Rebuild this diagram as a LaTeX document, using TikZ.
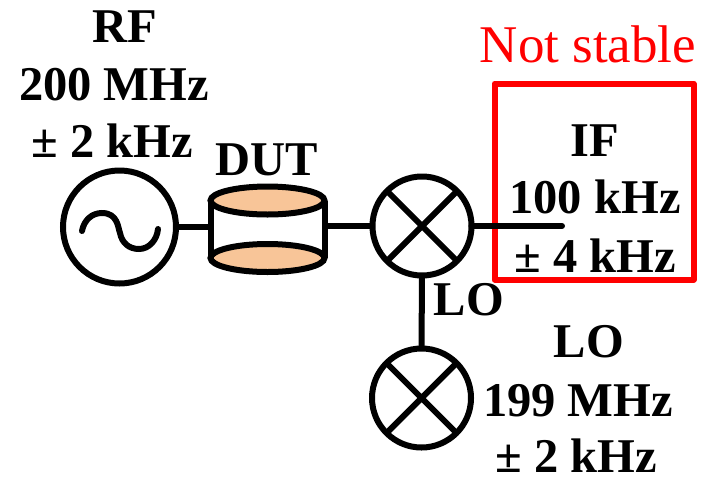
\documentclass[tikz,border=0pt]{standalone}
\usepackage{fontspec}
\setmainfont{Liberation Serif}
\usetikzlibrary{shapes.geometric}
\definecolor{capfill}{HTML}{F8C598}
\tikzset{
  wire/.style={draw=black,line width=6pt},
  ring/.style={circle,draw=black,line width=6pt,inner sep=0pt,outer sep=0pt,fill=white},
  mixer/.style={ring,minimum size=99pt},
  source/.style={ring,minimum size=113pt},
  dutcap/.style={ellipse,draw=black,line width=6pt,fill=capfill,inner sep=0pt,outer sep=0pt,minimum width=114pt,minimum height=28pt},
  lab/.style={anchor=base,inner sep=0pt,font=\fontsize{48.5}{48.5}\selectfont\bfseries},
  redlab/.style={anchor=base,inner sep=0pt,text=red,font=\fontsize{53}{53}\selectfont},
  redbox/.style={draw=red,line width=6pt,line join=round,inner sep=0pt,outer sep=0pt,minimum width=199pt,minimum height=196pt}
}
\begin{document}
\begin{tikzpicture}[x=1pt,y=-1pt]
\useasboundingbox (0,0) rectangle (708,477);
\node[source] (src) at (119.5,227) {};
\node[mixer] (mix) at (422,226) {};
\node[mixer] (lomix) at (421.5,398) {};
\coordinate (ifend) at (562,226);
% DUT cylinder
\node[dutcap] (capbot) at (267.5,258) {};
\node[dutcap] (captop) at (267.5,200.5) {};
\draw[wire] (captop.west) -- (capbot.west) (captop.east) -- (capbot.east);
% connectors
\draw[wire] (src.east) -- (captop.west |- src.east);
\draw[wire] (captop.east |- mix.west) -- (mix.west);
\draw[wire] (mix.south) -- (lomix.north);
% sine
\draw[line width=6pt,line cap=round] (82,231) .. controls (84,220) and (92,213) .. (102,213) .. controls (118,213) and (118,228) .. (120,233) .. controls (122,243) and (129,249) .. (139,249) .. controls (149,249) and (157,240) .. (158,229);
% mixer crosses
\draw[wire] (mix.45) -- (mix.225) (mix.135) -- (mix.315);
\draw[wire] (lomix.45) -- (lomix.225) (lomix.135) -- (lomix.315);
% red box and IF line
\node[redbox] (box) at (594,181.5) {};
\draw[wire,line cap=round] (mix.east) -- (ifend);
% labels
\node[lab] (rf1) at (125,42) {RF};
\node[lab] (rf2) at (114,100) {200 MHz};
\node[lab] (rf3) at (112,157) {± 2 kHz};
\node[lab] (dut) at (267,175) {DUT};
\node[redlab] (ns) at (588,62) {Not stable};
\node[lab] (if1) at (595,156) {IF};
\node[lab] (if2) at (595,213) {100 kHz};
\node[lab] (if3) at (595,272) {± 4 kHz};
\node[lab] (lop) at (469,315) {LO};
\node[lab] (lo1) at (589,357) {LO};
\node[lab] (lo2) at (578,416) {199 MHz};
\node[lab] (lo3) at (576,472) {± 2 kHz};
\end{tikzpicture}
\end{document}
